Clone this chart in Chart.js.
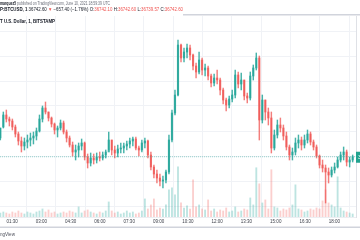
<!DOCTYPE html>
<html>
<head>
<meta charset="utf-8">
<script src="https://cdn.jsdelivr.net/npm/chart.js@4"></script>
<style>
  html, body { margin: 0; padding: 0; background: #fff; }
  #wrap { position: relative; width: 360px; height: 240px; }
</style>
</head>
<body>
<div id="wrap"><canvas id="c" width="360" height="240"></canvas></div>
<script>
// BTCUSD 1-minute candles, June 10 2021, grouped into ~9 minute columns
var timeLabels  = ['01:30', '03:00', '04:30', '06:00', '07:30', '09:00', '10:30', '12:00', '13:30', '15:00', '16:30', '18:00'];
var tickMinutes = [90, 180, 270, 360, 450, 540, 630, 720, 810, 900, 990, 1080];
var priceGrid   = [36250, 36500, 36750, 37000, 37250, 37500, 37750, 38000];
var firstMinute = 54, stepMinutes = 9.25;

var opens = [36930,37040,37160,37120,37100,37040,36970,36900,36850,36890,
  36910,36930,36950,37000,37120,37230,37190,37130,37070,37010,
  37030,37080,36990,36930,36860,36790,36810,36850,36880,36740,
  36680,36730,36710,36740,36730,36760,36790,36910,36810,36780,
  36820,36830,36850,36870,36900,36920,36830,36810,36880,36900,
  36760,36640,36570,36530,36500,36510,36590,36910,37180,37360,
  37860,37730,37790,37830,37760,37650,37590,37710,37610,37630,
  37550,37480,37530,37510,37410,37310,37260,37320,37360,37560,
  37470,37510,37350,37330,37550,37630,37730,37110,37310,37190,
  37130,36830,36960,37060,37030,36950,36840,36760,36790,36880,
  36910,36860,36910,36970,36890,36840,36750,36660,36630,36590,
  36560,36610,36640,36710,36760,36790,36690,36710];
var highs = [37030,37190,37210,37140,37120,37060,36990,36940,36930,36960,
  36980,36990,37030,37160,37250,37290,37190,37140,37080,37050,
  37110,37100,37010,36950,36890,36860,36880,36920,36890,36770,
  36780,36770,36780,36790,36790,36810,36990,36910,36850,36860,
  36880,36880,36900,36930,36940,36940,36850,36910,36930,36910,
  36790,36660,36610,36570,36550,36610,36960,37210,37410,37910,
  37870,37830,37870,37860,37770,37680,37790,37730,37670,37650,
  37570,37570,37610,37530,37430,37330,37350,37410,37610,37590,
  37580,37510,37380,37590,37660,37780,37750,37360,37310,37230,
  37190,37010,37110,37130,37060,36990,36860,36830,36930,36960,
  36940,36960,37010,36990,36910,36860,36760,36710,36660,36630,
  36640,36680,36740,36790,36840,36810,36740,36760];
var lows = [36910,37030,37090,37050,37010,36940,36860,36790,36810,36830,
  36850,36870,36910,36990,37090,37170,37100,37040,36970,36940,
  37010,36970,36890,36840,36750,36710,36740,36810,36710,36630,
  36650,36670,36680,36700,36710,36730,36810,36760,36730,36740,
  36780,36780,36810,36830,36850,36810,36750,36790,36830,36730,
  36610,36530,36480,36450,36430,36480,36570,36890,37160,37350,
  37690,37690,37730,37710,37610,37530,37570,37560,37550,37510,
  37440,37450,37470,37360,37270,37200,37230,37290,37330,37430,
  37410,37310,37280,37310,37510,37610,36910,37080,37110,37060,
  36780,36810,36930,36990,36910,36810,36710,36710,36760,36830,
  36810,36830,36880,36860,36810,36730,36630,36590,36280,36480,
  36540,36580,36630,36690,36710,36650,36640,36690];
var closes = [37030,37160,37120,37100,37040,36970,36900,36850,36890,36910,
  36930,36950,37000,37120,37230,37190,37130,37070,37010,37030,
  37080,36990,36930,36860,36790,36810,36850,36880,36740,36680,
  36730,36710,36740,36730,36760,36790,36910,36810,36780,36820,
  36830,36850,36870,36900,36920,36830,36810,36880,36900,36760,
  36640,36570,36530,36500,36510,36590,36910,37180,37360,37860,
  37730,37790,37830,37760,37650,37590,37710,37610,37630,37550,
  37480,37530,37510,37410,37310,37260,37320,37360,37560,37470,
  37510,37350,37330,37550,37630,37730,37110,37310,37190,37130,
  36830,36960,37060,37030,36950,36840,36760,36790,36880,36910,
  36860,36910,36970,36890,36840,36750,36660,36630,36590,36560,
  36610,36640,36710,36760,36790,36690,36710,36742.6];
var volumes = [4,5,4,3,5,4,6,4,3,5,
  4,3,5,6,8,5,7,4,5,3,
  4,5,4,6,5,4,10,4,6,7,
  5,4,3,5,4,6,15,6,4,5,
  3,4,6,4,5,3,4,6,18,8,
  12,18,7,9,8,12,27,29,22,50,
  14,9,11,8,37,10,12,8,7,17,
  6,8,5,7,6,9,5,6,10,5,
  6,8,7,19,12,49,33,14,17,8,
  47,10,9,6,8,7,9,12,32,8,
  7,5,6,8,7,9,8,16,27,14,
  12,10,40,9,6,5,4,3];
var lastPrice = 36742.60;

var UP = '#26a69a', DOWN = '#ef5350';

var wickPts = [], bodyPts = [], volPts = [], candleCol = [], volCol = [];
for (var i = 0; i < closes.length; i++) {
  var t = firstMinute + i * stepMinutes;
  var up = closes[i] >= opens[i];
  wickPts.push({ x: t, y: [lows[i], highs[i]] });
  bodyPts.push({ x: t, y: [opens[i], closes[i]] });
  volPts.push({ x: t, y: volumes[i] });
  candleCol.push(up ? 'rgba(38,166,154,0.85)' : 'rgba(239,83,80,0.75)');
  volCol.push(up ? 'rgba(38,166,154,0.3)' : 'rgba(239,83,80,0.28)');
}
var xMin = 53, xMax = 1146.5;

function drawSegments(ctx, parts, x0, y, targetW) {
  var total = 0;
  parts.forEach(function (p) { ctx.font = p.f; total += ctx.measureText(p.t).width; });
  ctx.save();
  ctx.translate(x0, y);
  ctx.scale(targetW / total, 1);
  var x = 0;
  parts.forEach(function (p) {
    ctx.font = p.f;
    ctx.fillStyle = p.c;
    ctx.fillText(p.t, x, 0);
    x += ctx.measureText(p.t).width;
  });
  ctx.restore();
}

var decor = {
  id: 'decor',
  afterDraw: function (chart) {
    var ctx = chart.ctx, ca = chart.chartArea;
    ctx.save();
    ctx.textBaseline = 'middle';
    ctx.textAlign = 'left';
    // header
    var B = 'bold 5px "Liberation Sans"', R = '5px "Liberation Sans"';
    drawSegments(ctx, [
      { t: 'marquez5', f: B, c: '#131722' },
      { t: ' published on TradingView.com, June 10, 2021 18:59:39 UTC', f: R, c: '#6a6d78' }
    ], 0, 3.5, 110);
    drawSegments(ctx, [
      { t: 'P:BTCUSD, 1 ', f: B, c: '#131722' },
      { t: '36742.60 ', f: R, c: '#131722' },
      { t: '\u25BC', f: R, c: DOWN },
      { t: ' \u2212657.40 (\u22121.76%) ', f: R, c: '#131722' },
      { t: 'O:', f: R, c: '#131722' }, { t: '36742.10 ', f: R, c: DOWN },
      { t: 'H:', f: R, c: '#131722' }, { t: '36742.60 ', f: R, c: DOWN },
      { t: 'L:', f: R, c: '#131722' }, { t: '36739.57 ', f: R, c: DOWN },
      { t: 'C:', f: R, c: '#131722' }, { t: '36742.60', f: R, c: DOWN }
    ], 0, 9.5, 183);
    ctx.fillStyle = '#d1d4dc';
    ctx.fillRect(183, 14, 177, 1.5);
    drawSegments(ctx, [
      { t: 'T U.S. Dollar, 1, BITSTAMP', f: B, c: '#131722' }
    ], 0, 22, 55);
    // last price label
    var py = chart.scales.y.getPixelForValue(lastPrice);
    ctx.fillStyle = '#22a38f';
    ctx.fillRect(ca.right, py - 5, 40, 11);
    ctx.fillStyle = '#fff';
    ctx.font = '5px "Liberation Sans"';
    ctx.fillText('36742.60', ca.right + 2, py + 0.5);
    // footer
    ctx.fillStyle = '#d1d4dc';
    ctx.fillRect(0, 226.5, 360, 1.5);
    drawSegments(ctx, [{ t: 'ngView', f: R, c: '#50535e' }], 0, 235, 15);
    ctx.restore();
  }
};

new Chart(document.getElementById('c').getContext('2d'), {
  type: 'bar',
  data: {
    datasets: [
      { type: 'line', data: [{ x: xMin, y: lastPrice }, { x: xMax, y: lastPrice }],
        borderColor: 'rgba(38,166,154,0.45)', borderWidth: 1, borderDash: [1, 1],
        pointRadius: 0, order: 0, yAxisID: 'y' },
      { data: bodyPts, backgroundColor: candleCol, barThickness: 1.5, minBarLength: 1,
        grouped: false, order: 1, yAxisID: 'y' },
      { data: wickPts, backgroundColor: candleCol, barThickness: 0.8,
        grouped: false, order: 2, yAxisID: 'y' },
      { data: volPts, backgroundColor: volCol, barThickness: 1.2,
        grouped: false, order: 3, yAxisID: 'yv' }
    ]
  },
  options: {
    responsive: false,
    animation: false,
    devicePixelRatio: 1,
    layout: { padding: { top: 16, left: 0, right: 4, bottom: 13 } },
    plugins: { legend: { display: false }, tooltip: { enabled: false } },
    scales: {
      x: {
        type: 'linear', min: xMin, max: xMax, offset: false,
        afterBuildTicks: function (ax) { ax.ticks = tickMinutes.map(function (v) { return { value: v }; }); },
        afterFit: function (ax) { ax.height = 10; },
        ticks: {
          autoSkip: false, maxRotation: 0, padding: 2, color: '#3b3e48',
          font: { size: 4.5, family: 'Liberation Sans' },
          callback: function (v) { return timeLabels[tickMinutes.indexOf(v)]; }
        },
        grid: { color: '#f0f2f6', drawTicks: false },
        border: { display: true, color: '#eceef2' }
      },
      y: {
        position: 'right', min: 36140, max: 38150,
        afterBuildTicks: function (ax) { ax.ticks = priceGrid.map(function (v) { return { value: v }; }); },
        afterFit: function (ax) { ax.width = 0; },
        ticks: { display: false },
        grid: { color: '#f0f2f6', drawTicks: false },
        border: { display: true, color: '#dfe1e6' }
      },
      yv: { display: false, min: 0, max: 200 }
    }
  },
  plugins: [decor]
});
</script>
</body>
</html>
